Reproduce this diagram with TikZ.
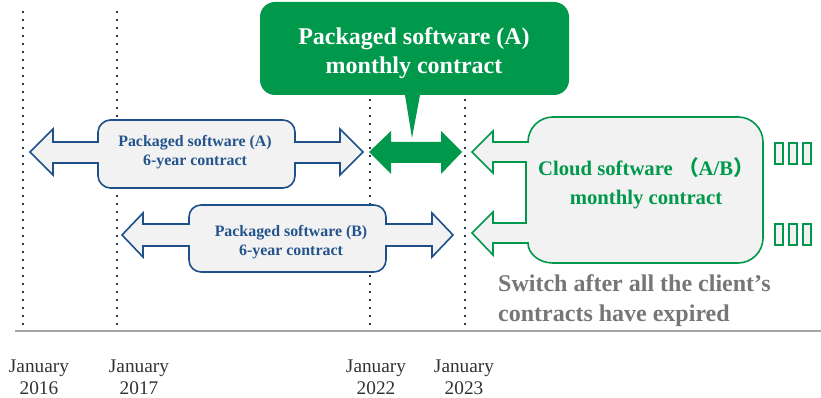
\documentclass[tikz,border=0pt]{standalone}
\usepackage{fontspec}
\setmainfont{Liberation Serif}
\newfontfamily\cjk{Noto Sans CJK SC}
\definecolor{bl}{RGB}{30,80,138}
\definecolor{blt}{RGB}{36,84,140}
\definecolor{gr}{RGB}{0,152,74}
\definecolor{lg}{RGB}{242,242,242}
\definecolor{dotc}{RGB}{45,55,80}
\definecolor{gt}{RGB}{118,118,118}
\definecolor{axc}{RGB}{165,165,165}
\definecolor{datec}{RGB}{50,50,50}
\tikzset{
  gridline/.style={dotc, line width=1.8pt, dash pattern=on 1.8pt off 6.2pt},
  axisline/.style={axc, line width=2pt},
  blueshape/.style={draw=bl, fill=lg, line width=1.6pt, line join=miter},
  greenshape/.style={draw=gr, fill=lg, line width=1.6pt, line join=miter},
  greensolid/.style={fill=gr, draw=none},
  datelbl/.style={text=datec, align=center, font=\fontsize{19.3}{22}\selectfont},
  bluetxt/.style={text=blt, align=center, font=\bfseries\fontsize{15.9}{19}\selectfont},
  tofu/.style={draw=gr, fill=lg, line width=1.6pt, minimum width=8pt, minimum height=21pt, inner sep=0pt},
}
\begin{document}
\begin{tikzpicture}[x=1pt,y=-1pt]
\useasboundingbox (0,0) rectangle (821,398);
% grid lines
\foreach \x in {23,117,370,465} \draw[gridline] (\x,11) -- (\x,331);
\draw[axisline] (15,331) -- (821,331);
% Packaged software (A) 6-year
\draw[blueshape] (30,152) -- (53,129) -- (53,142) -- (98,142) -- (98,132)
  .. controls (98,125.4) and (104.6,120) .. (110,120) -- (283,120)
  .. controls (289.6,120) and (295,125.4) .. (295,132) -- (295,142) -- (340,142)
  -- (340,129) -- (363,152) -- (340,175) -- (340,163) -- (295,163) -- (295,176)
  .. controls (295,182.6) and (289.6,188) .. (283,188) -- (110,188)
  .. controls (104.6,188) and (98,182.6) .. (98,176) -- (98,163) -- (53,163) -- (53,175) -- cycle;
\node[bluetxt] (pa) at (195,152) {Packaged software (A)\\6-year contract};
% Packaged software (B) 6-year
\draw[blueshape] (122,235) -- (143,213) -- (143,224) -- (189,224) -- (189,217)
  .. controls (189,210.4) and (194.4,205) .. (201,205) -- (374,205)
  .. controls (380.6,205) and (386,210.4) .. (386,217) -- (386,224) -- (432,224)
  -- (432,213) -- (453,235) -- (432,257) -- (432,246) -- (386,246) -- (386,260)
  .. controls (386,266.6) and (380.6,272) .. (374,272) -- (201,272)
  .. controls (194.4,272) and (189,266.6) .. (189,260) -- (189,246) -- (143,246) -- (143,257) -- cycle;
\node[bluetxt] (pb) at (291,242) {Packaged software (B)\\6-year contract};
% green double arrow
\draw[greensolid] (369,152) -- (391,131) -- (391,142) -- (441,142) -- (441,131) -- (462,152)
  -- (441,174) -- (441,163) -- (391,163) -- (391,174) -- cycle;
% cloud shape
\draw[greenshape] (472,152) -- (493,131) -- (493,142) -- (528,142)
  .. controls (528,128.2) and (539.2,117) .. (553,117) -- (738,117)
  .. controls (751.8,117) and (763,128.2) .. (763,142) -- (763,238)
  .. controls (763,251.8) and (751.8,263) .. (738,263) -- (553,263)
  .. controls (539.2,263) and (528,254) .. (528,243) -- (493,243) -- (493,255) -- (472,233)
  -- (493,212) -- (493,223) -- (526,223) -- (526,162) -- (493,162) -- (493,173) -- cycle;
\node[text=gr, align=center, font=\bfseries\fontsize{20.7}{29}\selectfont] (cl) at (646,183)
  {Cloud software {\cjk （}A/B{\cjk ）}\\monthly contract};
% tofu boxes
\foreach \i/\x in {1/779,2/793,3/807}{
  \node[tofu] (tu\i) at (\x,153.5) {};
  \node[tofu] (tl\i) at (\x,234.5) {};
}
% callout
\draw[greensolid] (260,17) .. controls (260,8.7) and (266.7,2) .. (275,2) -- (554,2)
  .. controls (562.3,2) and (569,8.7) .. (569,17) -- (569,80)
  .. controls (569,88.3) and (562.3,95) .. (554,95) -- (420,95) -- (412,138) -- (405,95) -- (275,95)
  .. controls (266.7,95) and (260,88.3) .. (260,80) -- cycle;
\node[text=white, align=center, font=\bfseries\fontsize{24}{29}\selectfont] (co) at (414,53)
  {Packaged software (A)\\monthly contract};
% switch text
\node[text=gt, anchor=base west, inner sep=0pt, font=\bfseries\fontsize{24}{29}\selectfont] (sw1) at (498,291) {Switch after all the client’s};
\node[text=gt, anchor=base west, inner sep=0pt, font=\bfseries\fontsize{24}{29}\selectfont] (sw2) at (498,321) {contracts have expired};
% dates
\node[datelbl] (d16) at (39,377) {January\\2016};
\node[datelbl] (d17) at (139,377) {January\\2017};
\node[datelbl] (d22) at (376,377) {January\\2022};
\node[datelbl] (d23) at (464,377) {January\\2023};
\end{tikzpicture}
\end{document}
